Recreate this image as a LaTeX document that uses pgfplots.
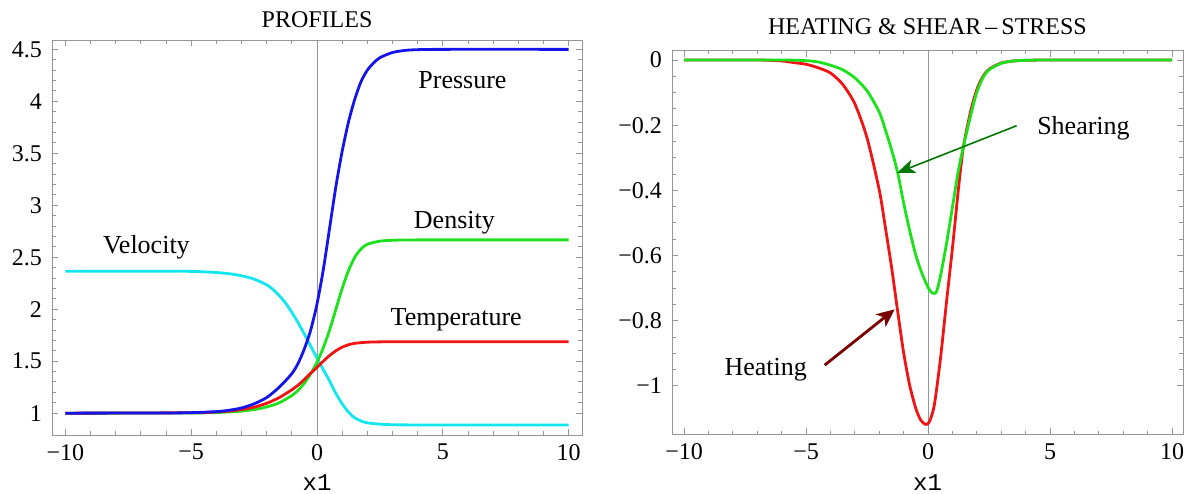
\documentclass[border=0pt]{standalone}
\usepackage{pgfplots}
\pgfplotsset{compat=1.18}
\usepackage{fontspec}
\setmainfont{Liberation Serif}
\setmonofont{Liberation Mono}
\usetikzlibrary{arrows.meta}
\definecolor{cvel}{RGB}{20,230,240}
\definecolor{cden}{RGB}{30,225,30}
\definecolor{cpre}{RGB}{20,20,235}
\definecolor{ctem}{RGB}{240,20,20}
\definecolor{darrg}{RGB}{0,120,0}
\definecolor{darrr}{RGB}{120,0,0}
\definecolor{frm}{RGB}{150,150,150}

\pgfplotstableread{
x y
-10 2.366
-6 2.366
-5 2.364
-4.5 2.36
-4 2.353
-3.5 2.342
-3 2.322
-2.5 2.29
-2 2.235
-1.75 2.19
-1.5 2.13
-1.25 2.06
-1 1.97
-0.75 1.87
-0.5 1.76
-0.25 1.645
0 1.53
0.25 1.42
0.5 1.31
0.75 1.19
1 1.09
1.25 1.01
1.5 0.955
1.75 0.925
2 0.907
2.5 0.894
3 0.889
4 0.887
10 0.887
}\velocity

\pgfplotstableread{
x y
-10 1
-5 1.002
-4 1.006
-3.5 1.012
-3 1.02
-2.5 1.035
-2 1.06
-1.5 1.1
-1 1.17
-0.75 1.22
-0.5 1.29
-0.25 1.38
0 1.49
0.25 1.63
0.5 1.8
0.75 2.0
1 2.2
1.25 2.37
1.5 2.5
1.75 2.58
2 2.625
2.5 2.655
3 2.663
4 2.667
10 2.667
}\density

\pgfplotstableread{
x y
-10 1
-6 1.002
-5 1.005
-4 1.015
-3.5 1.028
-3 1.05
-2.5 1.09
-2 1.15
-1.5 1.25
-1 1.38
-0.75 1.48
-0.5 1.62
-0.25 1.8
0 2.05
0.25 2.38
0.5 2.78
0.75 3.18
1 3.52
1.25 3.8
1.5 4.02
1.75 4.19
2 4.3
2.25 4.37
2.5 4.42
3 4.47
3.5 4.49
4 4.497
5 4.5
10 4.5
}\pressure

\pgfplotstableread{
x y
-10 1
-5 1.004
-4 1.012
-3.5 1.02
-3 1.035
-2.5 1.058
-2 1.095
-1.5 1.15
-1 1.225
-0.75 1.27
-0.5 1.325
-0.25 1.385
0 1.44
0.25 1.5
0.5 1.555
0.75 1.6
1 1.635
1.25 1.658
1.5 1.672
2 1.683
2.5 1.686
3 1.6875
10 1.6875
}\temperature

\pgfplotstableread{
x y
-10 0
-7 0
-6 -0.003
-5.5 -0.008
-5 -0.013
-4.5 -0.024
-4 -0.04
-3.5 -0.075
-3 -0.135
-2.5 -0.24
-2 -0.4
-1.75 -0.515
-1.5 -0.635
-1.25 -0.77
-1 -0.9
-0.75 -1.0
-0.5 -1.07
-0.3 -1.105
-0.1 -1.118
0.05 -1.11
0.25 -1.06
0.5 -0.92
0.75 -0.745
1 -0.575
1.25 -0.39
1.45 -0.265
1.75 -0.155
2 -0.09
2.25 -0.05
2.5 -0.028
3 -0.009
3.5 -0.003
4 -0.001
5 0
10 0
}\heating

\pgfplotstableread{
x y
-10 0
-6 0
-5 -0.002
-4.5 -0.006
-4 -0.016
-3.5 -0.03
-3 -0.055
-2.5 -0.095
-2 -0.16
-1.75 -0.215
-1.5 -0.275
-1.25 -0.345
-1 -0.44
-0.75 -0.525
-0.5 -0.6
-0.25 -0.655
0 -0.698
0.15 -0.714
0.25 -0.716
0.35 -0.71
0.5 -0.665
0.75 -0.565
1 -0.45
1.25 -0.335
1.45 -0.265
1.75 -0.168
2 -0.098
2.25 -0.054
2.5 -0.03
3 -0.01
3.5 -0.003
4 -0.001
5 0
10 0
}\shearing

\pgfplotsset{
  mma/.style={
    scale only axis,
    anchor=south west,
    axis line style={frm, line width=0.5pt},
    every tick/.style={frm, line width=0.5pt},
    major tick length=3.2pt,
    minor tick length=1.8pt,
    tick align=inside,
    xtick pos=both, ytick pos=both,
    xtick={-10,-5,0,5,10},
    xticklabels={−10,−5,0,5,10},
    minor x tick num=4,
    tick label style={font=\fontsize{12}{13}\selectfont, text=black},
    yticklabel style={xshift=-1.5pt},
    xticklabel style={yshift=-1pt},
    extra x ticks={0},
    extra x tick labels={},
    extra x tick style={grid=major, major grid style={frm, line width=0.5pt}},
    title style={font=\fontsize{12}{14}\selectfont, at={(0.5,1)}, anchor=base},
    xlabel style={font=\ttfamily\fontsize{12}{13}\selectfont, at={(0.5,0)}, anchor=center, yshift=-24pt},
    every axis plot/.append style={line width=1.4pt, smooth, tension=0.45},
    clip=false,
  }
}

\begin{document}
\begin{tikzpicture}
\path[use as bounding box] (0,0) rectangle (594pt,246.5pt);

\begin{axis}[mma,
  at={(26pt,29pt)},
  width=265pt, height=197.5pt,
  xmin=-10.53, xmax=10.53,
  ymin=0.79, ymax=4.59,
  ytick={1,1.5,2,2.5,3,3.5,4,4.5},
  yticklabels={1,1.5,2,2.5,3,3.5,4,4.5},
  minor y tick num=4,
  title={PROFILES},
  title style={yshift=0.5pt},
  xlabel={x1},
]
\addplot[cvel, no markers] table[x=x,y=y] {\velocity};
\addplot[cden, no markers] table[x=x,y=y] {\density};
\addplot[ctem, no markers] table[x=x,y=y] {\temperature};
\addplot[cpre, no markers] table[x=x,y=y] {\pressure};
\node[font=\fontsize{13}{15}\selectfont] at (axis cs:5.78,4.205) {Pressure};
\node[font=\fontsize{13}{15}\selectfont] at (axis cs:5.46,2.83) {Density};
\node[font=\fontsize{13}{15}\selectfont] at (axis cs:-6.78,2.6) {Velocity};
\node[font=\fontsize{13}{15}\selectfont] at (axis cs:5.53,1.9) {Temperature};
\end{axis}

\begin{axis}[mma,
  at={(336pt,29.35pt)},
  width=255.5pt, height=191.8pt,
  xmin=-10.5, xmax=10.45,
  ymin=-1.1483, ymax=0.0286,
  ytick={-1,-0.8,-0.6,-0.4,-0.2,0},
  yticklabels={−1,−0.8,−0.6,−0.4,−0.2,0},
  minor y tick num=3,
  title={HEATING \& SHEAR\,–\,STRESS},
  title style={yshift=2pt},
  xlabel={x1},
]
\addplot[ctem, no markers] table[x=x,y=y] {\heating};
\addplot[cden, no markers] table[x=x,y=y] {\shearing};
\draw[darrg, line width=0.8pt, -{Stealth[length=9pt,width=7pt,inset=2.5pt]}] (axis cs:3.63,-0.2015) -- (axis cs:-1.27,-0.346);
\draw[darrr, line width=1.4pt, -{Stealth[length=9pt,width=8pt,inset=2.5pt]}] (axis cs:-4.24,-0.936) -- (axis cs:-1.37,-0.765);
\node[font=\fontsize{13}{15}\selectfont] at (axis cs:6.37,-0.209) {Shearing};
\node[font=\fontsize{13}{15}\selectfont] at (axis cs:-6.66,-0.95) {Heating};
\end{axis}
\end{tikzpicture}
\end{document}
